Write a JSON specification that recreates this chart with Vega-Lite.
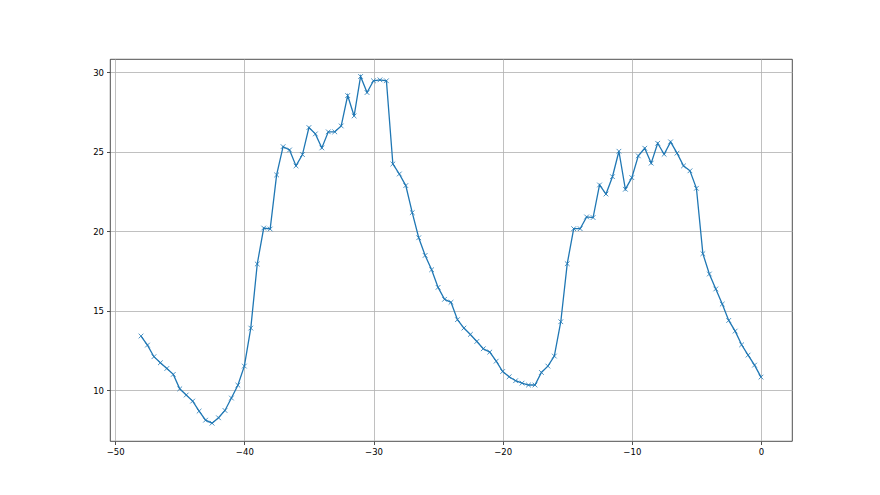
{
  "$schema": "https://vega.github.io/schema/vega-lite/v6.json",
  "width": 682,
  "height": 382,
  "autosize": {"type": "none"},
  "padding": {"left": 110, "top": 59, "right": 88, "bottom": 54},
  "background": "white",
  "config": {
    "view": {"stroke": "#222222", "strokeWidth": 0.8},
    "axis": {
      "domain": false,
      "grid": true,
      "gridColor": "#b0b0b0",
      "gridWidth": 0.8,
      "tickColor": "#222222",
      "tickSize": 3.5,
      "tickWidth": 0.8,
      "labelFont": "DejaVu Sans",
      "labelFontSize": 8.5,
      "labelColor": "#000000",
      "labelPadding": 3,
      "title": null
    }
  },
  "data": {
    "values": [
      {"x": -48, "y": 13.40}, {"x": -47.5, "y": 12.83}, {"x": -47, "y": 12.10}, {"x": -46.5, "y": 11.72},
      {"x": -46, "y": 11.36}, {"x": -45.5, "y": 10.99}, {"x": -45, "y": 10.08}, {"x": -44.5, "y": 9.69},
      {"x": -44, "y": 9.31}, {"x": -43.5, "y": 8.68}, {"x": -43, "y": 8.11}, {"x": -42.5, "y": 7.92},
      {"x": -42, "y": 8.26}, {"x": -41.5, "y": 8.72}, {"x": -41, "y": 9.50}, {"x": -40.5, "y": 10.31},
      {"x": -40, "y": 11.51}, {"x": -39.5, "y": 13.90}, {"x": -39, "y": 17.93}, {"x": -38.5, "y": 20.19},
      {"x": -38, "y": 20.13}, {"x": -37.5, "y": 23.53}, {"x": -37, "y": 25.31}, {"x": -36.5, "y": 25.10},
      {"x": -36, "y": 24.10}, {"x": -35.5, "y": 24.81}, {"x": -35, "y": 26.51}, {"x": -34.5, "y": 26.11},
      {"x": -34, "y": 25.23}, {"x": -33.5, "y": 26.24}, {"x": -33, "y": 26.24}, {"x": -32.5, "y": 26.61},
      {"x": -32, "y": 28.52}, {"x": -31.5, "y": 27.24}, {"x": -31, "y": 29.72}, {"x": -30.5, "y": 28.71},
      {"x": -30, "y": 29.45}, {"x": -29.5, "y": 29.51}, {"x": -29, "y": 29.45}, {"x": -28.5, "y": 24.22},
      {"x": -28, "y": 23.59}, {"x": -27.5, "y": 22.86}, {"x": -27, "y": 21.16}, {"x": -26.5, "y": 19.58},
      {"x": -26, "y": 18.47}, {"x": -25.5, "y": 17.57}, {"x": -25, "y": 16.46}, {"x": -24.5, "y": 15.71},
      {"x": -24, "y": 15.52}, {"x": -23.5, "y": 14.43}, {"x": -23, "y": 13.90}, {"x": -22.5, "y": 13.50},
      {"x": -22, "y": 13.06}, {"x": -21.5, "y": 12.60}, {"x": -21, "y": 12.39}, {"x": -20.5, "y": 11.82},
      {"x": -20, "y": 11.17}, {"x": -19.5, "y": 10.84}, {"x": -19, "y": 10.59}, {"x": -18.5, "y": 10.44},
      {"x": -18, "y": 10.32}, {"x": -17.5, "y": 10.32}, {"x": -17, "y": 11.11}, {"x": -16.5, "y": 11.51},
      {"x": -16, "y": 12.14}, {"x": -15.5, "y": 14.30}, {"x": -15, "y": 17.95}, {"x": -14.5, "y": 20.15},
      {"x": -14, "y": 20.15}, {"x": -13.5, "y": 20.89}, {"x": -13, "y": 20.85}, {"x": -12.5, "y": 22.90},
      {"x": -12, "y": 22.33}, {"x": -11.5, "y": 23.42}, {"x": -11, "y": 25.02}, {"x": -10.5, "y": 22.63},
      {"x": -10, "y": 23.36}, {"x": -9.5, "y": 24.73}, {"x": -9, "y": 25.21}, {"x": -8.5, "y": 24.27},
      {"x": -8, "y": 25.52}, {"x": -7.5, "y": 24.83}, {"x": -7, "y": 25.61}, {"x": -6.5, "y": 24.90},
      {"x": -6, "y": 24.10}, {"x": -5.5, "y": 23.79}, {"x": -5, "y": 22.69}, {"x": -4.5, "y": 18.58},
      {"x": -4, "y": 17.30}, {"x": -3.5, "y": 16.36}, {"x": -3, "y": 15.41}, {"x": -2.5, "y": 14.38},
      {"x": -2, "y": 13.71}, {"x": -1.5, "y": 12.85}, {"x": -1, "y": 12.20}, {"x": -0.5, "y": 11.57},
      {"x": 0, "y": 10.82}
    ]
  },
  "encoding": {
    "x": {
      "field": "x",
      "type": "quantitative",
      "scale": {"domain": [-50.4, 2.4], "nice": false, "zero": false},
      "axis": {"values": [-50, -40, -30, -20, -10, 0], "format": "d"}
    },
    "y": {
      "field": "y",
      "type": "quantitative",
      "scale": {"domain": [6.8, 30.82], "nice": false, "zero": false},
      "axis": {"values": [10, 15, 20, 25, 30], "format": "d"}
    }
  },
  "layer": [
    {"mark": {"type": "line", "color": "#1f77b4", "strokeWidth": 1.3}},
    {
      "mark": {
        "type": "point",
        "shape": "M-1,-1L1,1M-1,1L1,-1",
        "filled": false,
        "stroke": "#1f77b4",
        "strokeWidth": 0.8,
        "size": 22,
        "opacity": 1
      }
    }
  ]
}
